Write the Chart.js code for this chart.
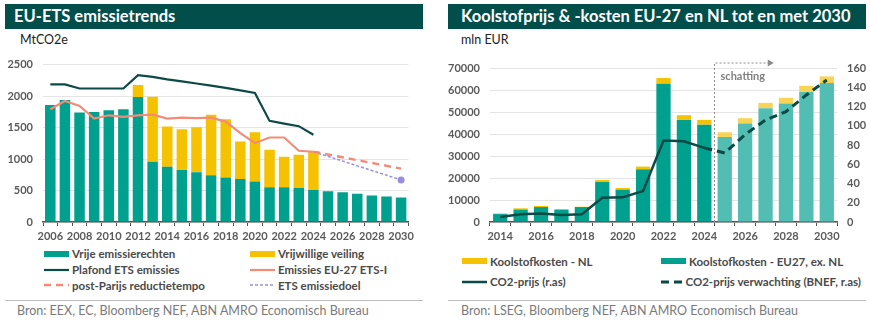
<!DOCTYPE html>
<html>
<head>
<meta charset="utf-8">
<script src="https://cdn.jsdelivr.net/npm/chart.js@4.4.0/dist/chart.umd.min.js"></script>
<style>
  body { margin: 0; width: 870px; height: 323px; background: #fff; font-family: Lato, "Open Sans", sans-serif; position: relative; overflow: hidden; }
  .title { position: absolute; top: 4px; height: 25px; background: #024e4a; color: #fff; font-weight: bold; font-size: 16.5px; line-height: 25px; box-sizing: border-box; white-space: nowrap; }
  .unit { position: absolute; top: 32px; font-size: 12.5px; color: #222; }
  .box { position: absolute; top: 48px; height: 198px; }
  .legend { position: absolute; display: grid; font-size: 11.5px; font-weight: bold; color: #4a4a4a; }
  .legend div { display: flex; align-items: center; white-space: nowrap; }
  .legend svg { margin-right: 3px; }
  .sep { position: absolute; top: 300px; height: 1px; background: #bdbdbd; }
  .src { position: absolute; top: 303px; font-size: 12.5px; color: #7a7a7a; white-space: nowrap; }
</style>
</head>
<body>
<div class="title" style="left:5px;width:418px;padding-left:9px;">EU-ETS emissietrends</div>
<div class="unit" style="left:20px;">MtCO2e</div>
<div class="box" style="left:0;width:418px;"><canvas id="ets"></canvas></div>
<div class="legend" id="ets-legend" style="left:44px;top:246px;grid-template-columns:206px 180px;grid-auto-rows:15.7px;"></div>
<div class="sep" style="left:5px;width:418px;"></div>
<div class="src" style="left:17px;">Bron: EEX, EC, Bloomberg NEF, ABN AMRO Economisch Bureau</div>

<div class="title" style="left:448px;width:418px;padding-left:13px;">Koolstofprijs &amp; -kosten EU-27 en NL tot en met 2030</div>
<div class="unit" style="left:461px;">mln EUR</div>
<div class="box" style="left:435px;width:435px;"><canvas id="kosten"></canvas></div>
<div class="legend" id="kosten-legend" style="left:462px;top:251px;grid-template-columns:199px 200px;grid-auto-rows:20.5px;"></div>
<div class="sep" style="left:448px;width:418px;"></div>
<div class="src" style="left:461px;">Bron: LSEG, Bloomberg NEF, ABN AMRO Economisch Bureau</div>

<script>
// ---- EU-ETS emissietrends (MtCO2e)
const etsYears = ['2006','2007','2008','2009','2010','2011','2012','2013','2014','2015','2016','2017','2018',
  '2019','2020','2021','2022','2023','2024','2025','2026','2027','2028','2029','2030'];
const vrijeRechten = [1858,1937,1740,1747,1775,1790,1985,958,879,826,789,742,705,684,642,553,553,542,510,489,474,447,421,405,389];
const vrijwilligeVeiling = [null,null,null,null,null,null,189,1032,637,648,716,963,927,595,784,594,484,526,615,null,null,null,null,null,null];
const plafondEts = [2185,2185,2120,2120,2120,2120,2332,2305,2265,2235,2200,2165,2130,2090,2050,1606,1563,1522,1385,null,null,null,null,null,null];
const emissiesEts = [1790,1921,1843,1642,1695,1669,1695,1705,1642,1658,1650,1658,1595,1410,1253,1342,1342,1132,1116,null,null,null,null,null,null];
const postParijs = [null,null,null,null,null,null,null,null,null,null,null,null,null,null,null,null,null,null,1116,null,null,null,null,null,848];
const etsDoel = [null,null,null,null,null,null,null,null,null,null,null,null,null,null,null,null,null,null,1116,null,null,null,null,null,669];
const etsTicks = [0, 500, 1000, 1500, 2000, 2500];

// ---- Koolstofprijs & -kosten (mln EUR, prijs EUR/t r.as)
const kostYears = ['2014','2015','2016','2017','2018','2019','2020','2021','2022','2023','2024','2025','2026','2027','2028','2029','2030'];
const kostenEU = [3600,5640,6800,5640,6800,18180,14700,23950,62840,46410,44260,38650,44720,51750,53850,59050,63160];
const kostenNL = [300,590,470,160,150,910,750,1230,2600,2140,2150,2140,2460,2420,2600,2870,3010];
const co2Prijs = [5.2,8,8.8,7.3,8,25.2,25.6,32.2,84.6,83.9,77,null,null,null,null,null,null];
const co2Verwachting = [null,null,null,null,null,null,null,null,null,null,77,71.7,90.9,106,114.7,132,147.5];
const firstEstimate = 11; // 2025
const kostTicksL = [0,10000,20000,30000,40000,50000,60000,70000];
const kostTicksR = [0,20,40,60,80,100,120,140,160];

const TEAL = '#00a08f', YELLOW = '#f5c200', DARK = '#0b4a45', SALMON = '#f28c78', PURPLE = '#9a8edc';
const TEAL_L = '#52bdb2', YELLOW_L = '#f8d456';
const tickFont = { family: 'Lato', size: 11, weight: 'bold' };
const tickColor = '#5a5a5a';
const gridColor = '#e4e4e4';

function xScale(labels) {
  return {
    stacked: true,
    grid: { drawOnChartArea: false, drawTicks: true, tickLength: 4, color: '#555', offset: true },
    border: { color: '#555', width: 1.5 },
    ticks: {
      autoSkip: false, maxRotation: 0, padding: 4, color: tickColor, font: tickFont,
      callback: (v, i) => (i % 2 === 0 ? labels[i] : '')
    },
    afterFit: s => { s.height = 24; }
  };
}

function yScale(min, max, ticks, extra) {
  return Object.assign({
    min: min, max: max,
    afterBuildTicks: s => { s.ticks = ticks.map(v => ({ value: v })); },
    grid: { color: gridColor, drawTicks: false },
    border: { display: false },
    ticks: { padding: 10, color: tickColor, font: tickFont, callback: v => String(v) }
  }, extra);
}

function buildLegend(chart, el) {
  chart.data.datasets.forEach(ds => {
    const item = document.createElement('div');
    let sw;
    if (ds.type === 'line') {
      const dash = ds.borderDash && ds.borderDash.length ? ` stroke-dasharray="${ds.borderDash.join(' ')}"` : '';
      sw = `<svg width="25" height="8"><line x1="0" y1="4" x2="25" y2="4" stroke="${ds.borderColor}" stroke-width="${ds.borderWidth}"${dash}/></svg>`;
    } else {
      const c = Array.isArray(ds.backgroundColor) ? ds.backgroundColor[0] : ds.backgroundColor;
      sw = `<svg width="25" height="8"><rect x="0" y="1" width="25" height="6" fill="${c}"/></svg>`;
    }
    item.innerHTML = sw + '<span>' + ds.label + '</span>';
    el.appendChild(item);
  });
}

const etsChart = new Chart(document.getElementById('ets'), {
  type: 'bar',
  data: {
    labels: etsYears,
    datasets: [
      { label: 'Vrije emissierechten', data: vrijeRechten, backgroundColor: TEAL, stack: 'bars', order: 5,
        categoryPercentage: 1, barPercentage: 0.72 },
      { label: 'Vrijwillige veiling', data: vrijwilligeVeiling, backgroundColor: YELLOW, stack: 'bars', order: 6,
        categoryPercentage: 1, barPercentage: 0.72 },
      { type: 'line', label: 'Plafond ETS emissies', data: plafondEts, borderColor: DARK, borderWidth: 2.2,
        pointRadius: 0, tension: 0, stack: 'l1', order: 1 },
      { type: 'line', label: 'Emissies EU-27 ETS-I', data: emissiesEts, borderColor: SALMON, borderWidth: 2.2,
        pointRadius: 0, tension: 0, stack: 'l2', order: 2 },
      { type: 'line', label: 'post-Parijs reductietempo', data: postParijs, borderColor: SALMON, borderWidth: 2.5,
        borderDash: [7, 5], pointRadius: 0, spanGaps: true, stack: 'l3', order: 3 },
      { type: 'line', label: 'ETS emissiedoel', data: etsDoel, borderColor: PURPLE, borderWidth: 1.5,
        borderDash: [3, 2], spanGaps: true, stack: 'l4', order: 4,
        pointRadius: c => (c.dataIndex === etsYears.length - 1 ? 3.5 : 0),
        pointBackgroundColor: PURPLE, pointBorderWidth: 0 }
    ]
  },
  options: {
    animation: false, responsive: true, maintainAspectRatio: false,
    layout: { padding: { top: 14, right: 7, left: 0, bottom: 0 } },
    plugins: { legend: { display: false }, tooltip: { enabled: false } },
    scales: {
      x: xScale(etsYears),
      y: yScale(0, 2500, etsTicks, { stacked: true, afterFit: s => { s.width = 43; } })
    }
  }
});
buildLegend(etsChart, document.getElementById('ets-legend'));

// dotted "schatting" marker
const schattingPlugin = {
  id: 'schatting',
  beforeDatasetsDraw(chart) {
    const { ctx, chartArea, scales } = chart;
    const xs = scales.x;
    const x = (xs.getPixelForValue(firstEstimate - 1) + xs.getPixelForValue(firstEstimate)) / 2;
    const step = xs.getPixelForValue(1) - xs.getPixelForValue(0);
    const x2 = xs.getPixelForValue(firstEstimate + 2) + 0.4 * step;
    const yTop = chartArea.top - 5;
    ctx.save();
    ctx.strokeStyle = '#8a8a8a';
    ctx.lineWidth = 1;
    ctx.setLineDash([2, 2]);
    ctx.beginPath();
    ctx.moveTo(x, chartArea.bottom);
    ctx.lineTo(x, yTop);
    ctx.lineTo(x2 - 5, yTop);
    ctx.stroke();
    ctx.setLineDash([]);
    ctx.fillStyle = '#8a8a8a';
    ctx.beginPath();
    ctx.moveTo(x2, yTop);
    ctx.lineTo(x2 - 6, yTop - 3.5);
    ctx.lineTo(x2 - 6, yTop + 3.5);
    ctx.closePath();
    ctx.fill();
    ctx.font = 'bold 11px Lato';
    ctx.fillStyle = '#808080';
    ctx.textBaseline = 'middle';
    ctx.fillText('schatting', x + 6, chartArea.top + 8);
    ctx.restore();
  }
};

const barColors = (actual, estimate) => kostYears.map((y, i) => (i < firstEstimate ? actual : estimate));

const kostChart = new Chart(document.getElementById('kosten'), {
  type: 'bar',
  data: {
    labels: kostYears,
    datasets: [
      { label: 'Koolstofkosten - NL', data: kostenNL, backgroundColor: barColors(YELLOW, YELLOW_L), stack: 'bars', order: 6,
        yAxisID: 'y', categoryPercentage: 1, barPercentage: 0.7 },
      { label: 'Koolstofkosten - EU27, ex. NL', data: kostenEU, backgroundColor: barColors(TEAL, TEAL_L), stack: 'bars', order: 5,
        yAxisID: 'y', categoryPercentage: 1, barPercentage: 0.7 },
      { type: 'line', label: 'CO2-prijs (r.as)', data: co2Prijs, borderColor: DARK, borderWidth: 2.5,
        pointRadius: 0, tension: 0, yAxisID: 'y1', order: 1 },
      { type: 'line', label: 'CO2-prijs verwachting (BNEF, r.as)', data: co2Verwachting, borderColor: DARK, borderWidth: 3,
        borderDash: [8, 5], pointRadius: 0, tension: 0, yAxisID: 'y1', order: 2 }
    ]
  },
  options: {
    animation: false, responsive: true, maintainAspectRatio: false,
    layout: { padding: { top: 20, right: 0, left: 0, bottom: 0 } },
    plugins: { legend: { display: false }, tooltip: { enabled: false } },
    scales: {
      x: xScale(kostYears),
      y: yScale(0, 70000, kostTicksL, { stacked: true, position: 'left', afterFit: s => { s.width = 55; } }),
      y1: yScale(0, 160, kostTicksR, {
        position: 'right',
        grid: { drawOnChartArea: false, drawTicks: false },
        afterFit: s => { s.width = 33; }
      })
    }
  },
  plugins: [schattingPlugin]
});
buildLegend(kostChart, document.getElementById('kosten-legend'));
</script>
</body>
</html>
